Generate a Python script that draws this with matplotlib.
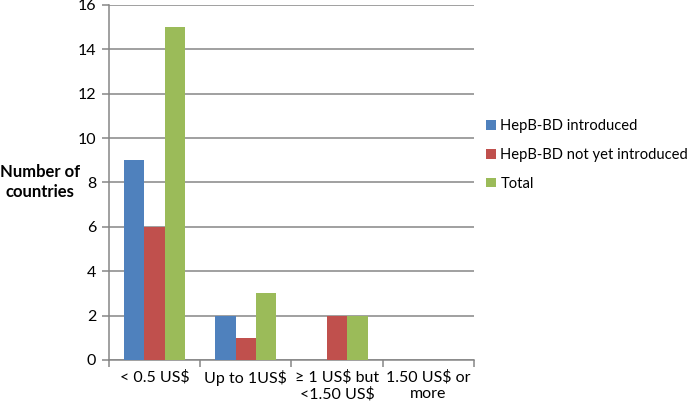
import numpy as np
import matplotlib.pyplot as plt

plt.rcParams['font.family'] = ['Lato', 'DejaVu Sans']

categories = ['< 0.5 US$', 'Up to 1US$', '\u2265 1 US$ but\n<1.50 US$', '1.50 US$ or\nmore']
introduced = [9, 2, 0, 0]
not_yet = [6, 1, 2, 0]
total = [15, 3, 2, 0]
series_names = ['HepB-BD introduced', 'HepB-BD not yet introduced', 'Total']
colors = ['#4F81BD', '#C0504D', '#9BBB59']
grid_color = '#868686'

fig = plt.figure(figsize=(6.89, 4.09), dpi=100)
ax = fig.add_axes([0.158, 0.12, 0.53, 0.868])

x = np.arange(len(categories))
w = 0.223
handles = []
for i, (vals, name, c) in enumerate(zip([introduced, not_yet, total], series_names, colors)):
    h = ax.bar(x + (i - 1) * w, vals, width=w, color=c, label=name, zorder=3)
    handles.append(h)

ax.set_xlim(-0.5, len(categories) - 0.5)
ax.set_ylim(0, 16)
ax.set_yticks(range(0, 17, 2))
ax.yaxis.grid(True, color=grid_color, linewidth=1.1, zorder=0)
ax.set_axisbelow(True)

# category ticks at boundaries, labels in middle
ax.set_xticks(np.arange(-0.5, len(categories), 1))
ax.set_xticklabels([])
ax.set_xticks(x, minor=True)
ax.set_xticklabels(categories, minor=True, fontsize=11.5, linespacing=1.25)
ax.tick_params(axis='x', which='major', length=5, color=grid_color, width=1.1)
ax.tick_params(axis='x', which='minor', length=0, pad=7)
ax.tick_params(axis='y', length=5, color=grid_color, width=1.1, labelsize=11.5, pad=4)

for s in ['top', 'right']:
    ax.spines[s].set_visible(False)
for s in ['left', 'bottom']:
    ax.spines[s].set_color(grid_color)
    ax.spines[s].set_linewidth(1.1)

fig.text(0.058, 0.555, 'Number of\ncountries', ha='center', va='center',
         fontsize=12, fontweight='bold', linespacing=1.35)

fig.legend(handles=handles, labels=series_names, loc='center left',
           bbox_to_anchor=(0.706, 0.621), frameon=False, fontsize=10.6,
           handlelength=0.65, handleheight=0.65, handletextpad=0.3,
           labelspacing=1.0, borderpad=0, borderaxespad=0)

plt.savefig('out.png', dpi=100)
